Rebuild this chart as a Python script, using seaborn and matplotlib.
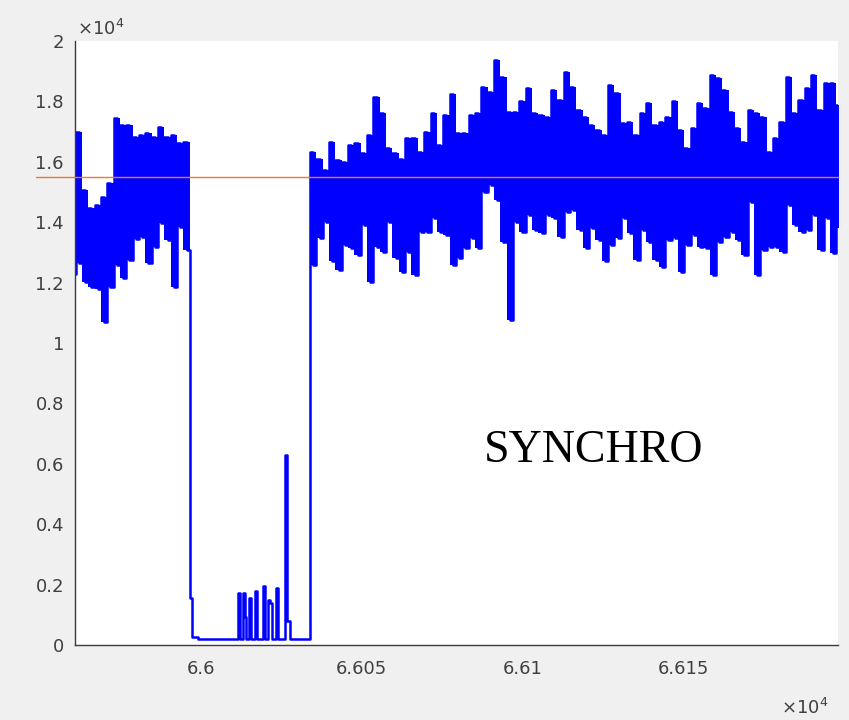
import numpy as np
import pandas as pd
import matplotlib
matplotlib.use("Agg")
import matplotlib.pyplot as plt
import seaborn as sns

# ---------------- data ----------------
sample_step = 0.985   # spacing of samples along x

# segment 1: noisy signal before the gap (pairs: high sample, low sample)
seg1_start = 65959.2
seg1_upper = [15780, 17000, 15070, 14460, 14570, 14850, 15290, 17440, 17220, 17220,
              16830, 16890, 16940, 16830, 17160, 16830, 16890, 16610, 16670]
seg1_lower = [12300, 12640, 12030, 11860, 11800, 10700, 11860, 12580, 12140, 12750,
              13460, 13520, 12640, 13190, 13960, 13410, 11860, 13850, 13080]

# idle gap: step changes (x, value)
idle_x = [65996.6, 65997.3, 65999.3, 66011.7, 66012.3, 66013.2, 66013.8, 66014.2,
          66015.2, 66015.8, 66016.9, 66017.5, 66019.4, 66020.0, 66021.0, 66021.6,
          66022.3, 66023.5, 66024.1, 66026.3, 66026.9, 66027.8]
idle_v = [1550, 250, 185, 1730, 185, 1710, 940, 185,
          1570, 185, 1800, 185, 1950, 185, 1500, 1400,
          185, 1900, 185, 6300, 780, 185]

# segment 2: noisy signal after the gap (pairs: high sample, low sample)
seg2_start = 66034
seg2_upper = [16340, 16100, 15730, 16670, 16060, 16000, 16560, 16610, 16280, 16890,
              18160, 17600, 16450, 16280, 16100, 16780, 16780, 16340, 17000, 17600,
              16560, 17550, 18240, 16940, 16940, 17550, 17600, 18490, 18300, 19370,
              18820, 17660, 17660, 18000, 18430, 17600, 17550, 17500, 18380, 18050,
              18980, 18490, 17720, 17500, 17220, 17050, 16890, 18540, 18270, 17280,
              17330, 16890, 17600, 17940, 17220, 17330, 17500, 18000, 17050, 16450,
              17110, 17940, 17770, 18880, 18760, 18380, 17660, 17110, 16670, 17720,
              17600, 17500, 16340, 16780, 17330, 18820, 17600, 18050, 18430, 18880,
              17720, 18600, 18600, 17880]
seg2_lower = [12580, 13470, 14020, 12700, 12420, 13240, 13130, 12910, 13900, 12030,
              13190, 13000, 14020, 12800, 12360, 13000, 12250, 13690, 13690, 14130,
              13690, 13580, 12580, 12800, 13130, 13470, 13130, 15000, 15230, 14740,
              13360, 10760, 14020, 13690, 14240, 13740, 13630, 14240, 14130, 13520,
              14350, 14400, 13740, 13130, 13800, 13410, 12700, 13240, 13470, 14130,
              13630, 12750, 13740, 13360, 12750, 12530, 13410, 13470, 12360, 13240,
              13580, 13190, 13130, 12250, 13360, 13520, 13690, 13410, 12910, 14680,
              12250, 13080, 13190, 13190, 13000, 14570, 13910, 13690, 13740, 14240,
              13080, 14130, 12970, 13800]

threshold = 15500

x_ticks = [66000, 66050, 66100, 66150]
x_ticklabels = ["6.6", "6.605", "6.61", "6.615"]
y_ticks = [0, 2000, 4000, 6000, 8000, 10000, 12000, 14000, 16000, 18000, 20000]
y_ticklabels = ["0", "0.2", "0.4", "0.6", "0.8", "1", "1.2", "1.4", "1.6", "1.8", "2"]

# ---------------- build the series ----------------
def pairs(start, upper, lower):
    xs, ys = [], []
    for i, (u, l) in enumerate(zip(upper, lower)):
        xs += [start + 2 * i * sample_step, start + (2 * i + 1) * sample_step]
        ys += [u, l]
    return xs, ys

def envelope(start, upper, lower):
    xe = [start + 2 * i * sample_step for i in range(len(upper) + 1)]
    return np.array(xe), np.array(upper + upper[-1:]), np.array(lower + lower[-1:])

x1, y1 = pairs(seg1_start, seg1_upper, seg1_lower)
x2, y2 = pairs(seg2_start, seg2_upper, seg2_lower)
df = pd.DataFrame({"x": x1 + idle_x + x2, "y": y1 + idle_v + y2})

# ---------------- figure ----------------
sns.set_style("white")
plt.rcParams["font.family"] = ["DejaVu Sans"]

W, H = 849, 720
fig = plt.figure(figsize=(W / 100, H / 100), dpi=100, facecolor="#f0f0f0")
ax = fig.add_axes([75 / W, 1 - 645 / H, (838 - 75) / W, (645 - 41) / H])
ax.set_facecolor("white")

blue = "#0000ff"
for start, up, lo in [(seg1_start, seg1_upper, seg1_lower),
                      (seg2_start, seg2_upper, seg2_lower)]:
    xe, ue, le = envelope(start, up, lo)
    ax.fill_between(xe, le, ue, step="post", color=blue, linewidth=0, zorder=2)

sns.lineplot(data=df, x="x", y="y", estimator=None, sort=False, color=blue,
             linewidth=1.8, drawstyle="steps-post", ax=ax, zorder=2)
ax.plot([65949, 66198], [threshold, threshold], color="#f07828", linewidth=1.0,
        clip_on=False, zorder=3)

ax.set_xlim(65961, 66198)
ax.set_ylim(0, 20000)
ax.set_xticks(x_ticks)
ax.set_xticklabels(x_ticklabels)
ax.set_yticks(y_ticks)
ax.set_yticklabels(y_ticklabels)
ax.set_xlabel("")
ax.set_ylabel("")

for s in ["top", "right"]:
    ax.spines[s].set_visible(False)
for s in ["left", "bottom"]:
    ax.spines[s].set_color("#3a3a3a")
    ax.spines[s].set_linewidth(1.0)

ax.tick_params(axis="both", direction="in", length=4, width=1, color="#3a3a3a",
               labelcolor="#404040", labelsize=13)
ax.tick_params(axis="y", pad=8)
ax.tick_params(axis="x", pad=11)

fig.text(77 / W, 1 - 35 / H, r"$\times10^{4}$", fontsize=13, color="#404040",
         va="baseline", ha="left")
fig.text(781 / W, 1 - 714 / H, r"$\times10^{4}$", fontsize=13, color="#404040",
         va="baseline", ha="left")

fig.text(594 / W, 1 - 462 / H, "SYNCHRO", fontsize=33, color="black",
         family=["Liberation Serif", "DejaVu Serif"], ha="center", va="baseline")

fig.savefig("out.png", dpi=100, facecolor=fig.get_facecolor())
